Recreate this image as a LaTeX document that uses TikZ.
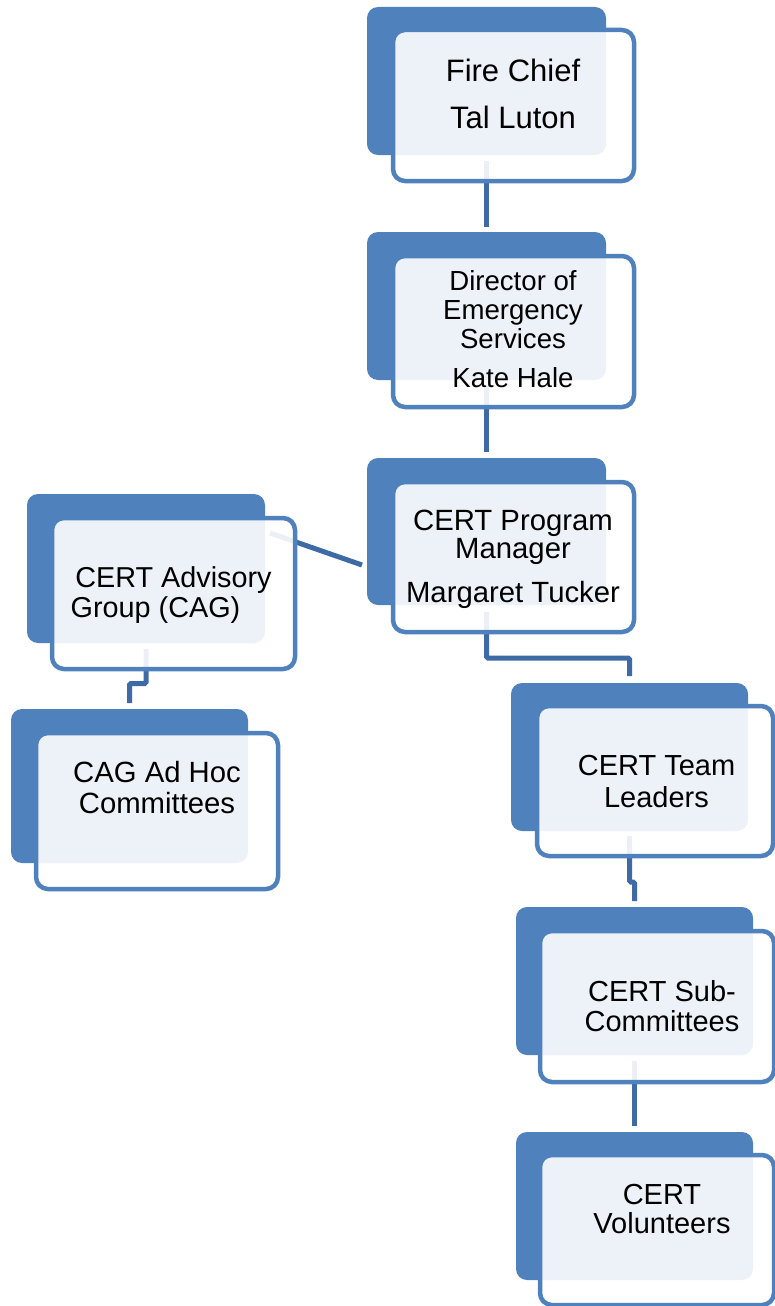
\documentclass[tikz,border=0pt]{standalone}
\usepackage{fontspec}
\setmainfont{Liberation Sans}
\pgfdeclarelayer{background}
\pgfsetlayers{background,main}
\definecolor{accent}{RGB}{79,129,189}
\definecolor{linkc}{RGB}{62,106,166}
\tikzset{
  backbox/.style={rectangle, fill=accent, draw=none, rounded corners=11pt, inner sep=0pt, outer sep=0pt},
  frontbox/.style={rectangle, draw=accent, line width=4.5pt, fill=white, fill opacity=0.9, rounded corners=12pt, inner sep=0pt, outer sep=0pt},
  conn/.style={draw=linkc, line width=5pt, rounded corners=1.5pt},
  lbl/.style={align=center, text=black, inner sep=0pt, outer sep=0pt, anchor=base},
}
\begin{document}
\begin{tikzpicture}[x=1pt,y=-1pt]
\useasboundingbox (0,0) rectangle (775,1306);
\clip (0,0) rectangle (775,1306);

% back boxes
\node[backbox, minimum width=239pt, minimum height=148pt] (fcb) at (486.5,81) {};
\node[backbox, minimum width=239pt, minimum height=148pt] (dirb) at (486.5,306) {};
\node[backbox, minimum width=239pt, minimum height=147pt] (pmb) at (486.5,531.5) {};
\node[backbox, minimum width=238pt, minimum height=149pt] (cagb) at (146,568.5) {};
\node[backbox, minimum width=237pt, minimum height=154pt] (adhb) at (129.5,786) {};
\node[backbox, minimum width=237pt, minimum height=148pt] (teamb) at (629.5,757) {};
\node[backbox, minimum width=237pt, minimum height=148pt] (subb) at (634.5,981) {};
\node[backbox, minimum width=237pt, minimum height=148pt] (volb) at (634.5,1206) {};

% front boxes
\node[frontbox, minimum width=241pt, minimum height=151pt] (fcf) at (513.5,105.5) {};
\node[frontbox, minimum width=241pt, minimum height=151pt] (dirf) at (513.5,331.5) {};
\node[frontbox, minimum width=241pt, minimum height=150pt] (pmf) at (513.5,557) {};
\node[frontbox, minimum width=243pt, minimum height=151pt] (cagf) at (173.5,593.5) {};
\node[frontbox, minimum width=242pt, minimum height=156pt] (adhf) at (157,811) {};
\node[frontbox, minimum width=236pt, minimum height=150pt] (teamf) at (655,781) {};
\node[frontbox, minimum width=234pt, minimum height=151pt] (subf) at (657,1006.5) {};
\node[frontbox, minimum width=234pt, minimum height=150pt] (volf) at (657,1230) {};

% connectors (under the boxes)
\begin{pgfonlayer}{background}
\draw[conn] ([yshift=-6pt]fcb.south) -- ([yshift=5pt]dirb.north);
\draw[conn] ([yshift=-6pt]dirb.south) -- ([yshift=6pt]pmb.north);
\draw[conn] ([yshift=-7pt]pmb.south) -- ++(0,46) -| ([yshift=7pt]teamb.north);
\draw[conn] ([xshift=-5pt,yshift=40pt]pmb.south west) -- ([xshift=5pt,yshift=-39pt]cagb.north east);
\draw[conn] ([yshift=-6pt]cagb.south) -- ++(0,34.5) -| ([yshift=6pt]adhb.north);
\draw[conn] ([yshift=-5pt]teamb.south) -- ++(0,46) -| ([yshift=6pt]subb.north);
\draw[conn] ([yshift=-6pt]subb.south) -- ([yshift=6pt]volb.north);
\end{pgfonlayer}

% labels (anchor = baseline of the last line)
\node[lbl, font={\fontsize{31}{47}\selectfont}] (fct) at (513,128) {Fire Chief\\Tal Luton};
\node[lbl, font={\fontsize{27.6}{29}\selectfont}] (dirt) at (513,387) {Director of\\Emergency\\Services\\[10pt]Kate Hale};
\node[lbl, font={\fontsize{29.3}{28}\selectfont}] (pmt) at (513,602) {CERT Program\\Manager\\[16pt]Margaret Tucker};
\node[lbl, font={\fontsize{28.8}{30}\selectfont}] (cagt) at (173.5,617) {CERT Advisory\\Group (CAG)\hspace*{36pt}};
\node[lbl, font={\fontsize{29.3}{31}\selectfont}] (adht) at (157,813) {CAG Ad Hoc\\Committees};
\node[lbl, font={\fontsize{29}{32}\selectfont}] (teamt) at (656.5,807) {CERT Team\\Leaders};
\node[lbl, font={\fontsize{29}{30}\selectfont}] (subt) at (662,1031) {CERT Sub-\\Committees};
\node[lbl, font={\fontsize{29}{29}\selectfont}] (volt) at (662,1233) {CERT\\Volunteers};
\end{tikzpicture}
\end{document}
